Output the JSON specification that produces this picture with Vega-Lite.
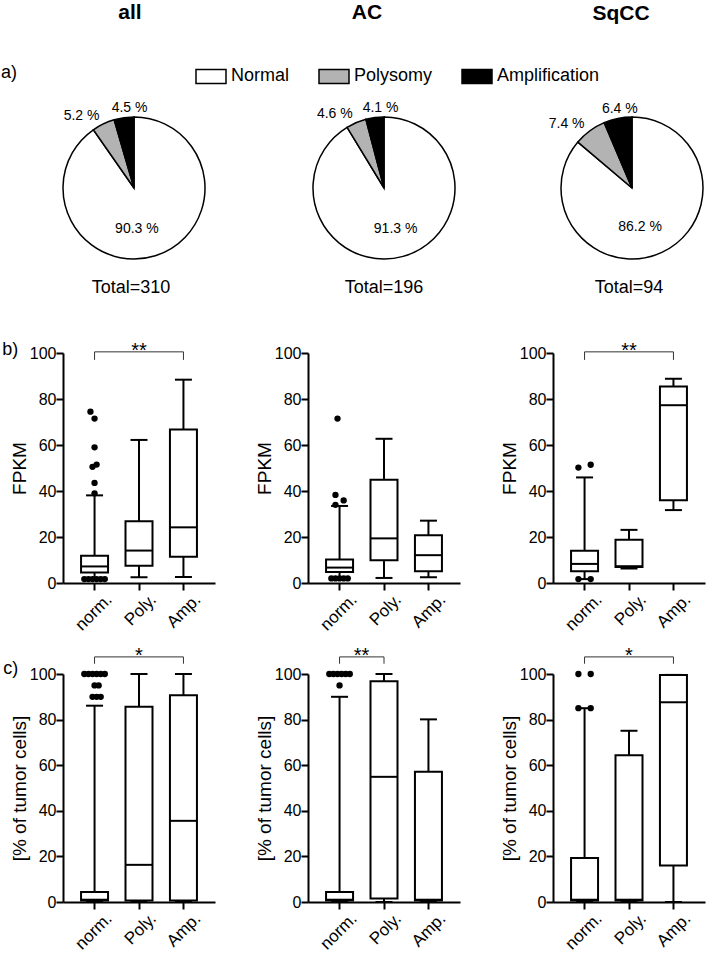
{
  "$schema": "https://vega.github.io/schema/vega-lite/v6.json",
  "padding": {"left": 1, "top": 1, "right": 0, "bottom": 0},
  "config": {
    "font": "Liberation Sans",
    "view": {"stroke": null},
    "axis": {"domainColor": "black", "domainWidth": 2, "tickColor": "black", "tickWidth": 2, "tickSize": 7, "labelColor": "black", "titleColor": "black", "grid": false, "labelFontSize": 16, "titleFontSize": 19, "titleFontWeight": "normal", "labelPadding": 0, "titlePadding": 0},
    "axisX": {"labelAngle": -45, "labelFontSize": 17, "labelPadding": 1, "labelOffset": 9},
    "title": {"color": "black"},
    "tick": {"opacity": 1},
    "bar": {"opacity": 1}
  },
  "datasets": {
    "pie": [
      {"g": "all", "cat": "Normal", "pct": 90.3, "label": "90.3 %"},
      {"g": "all", "cat": "Polysomy", "pct": 5.2, "label": "5.2 %"},
      {"g": "all", "cat": "Amplification", "pct": 4.5, "label": "4.5 %"},
      {"g": "AC", "cat": "Normal", "pct": 91.3, "label": "91.3 %"},
      {"g": "AC", "cat": "Polysomy", "pct": 4.6, "label": "4.6 %"},
      {"g": "AC", "cat": "Amplification", "pct": 4.1, "label": "4.1 %"},
      {"g": "SqCC", "cat": "Normal", "pct": 86.2, "label": "86.2 %"},
      {"g": "SqCC", "cat": "Polysomy", "pct": 7.4, "label": "7.4 %"},
      {"g": "SqCC", "cat": "Amplification", "pct": 6.4, "label": "6.4 %"}
    ],
    "tot": [
      {"g": "all", "t": "Total=310"},
      {"g": "AC", "t": "Total=196"},
      {"g": "SqCC", "t": "Total=94"}
    ],
    "box": [
      {"g": "all", "m": "b", "cat": "norm.", "lo": 1.5, "q1": 4.6, "med": 7.2, "q3": 11.9, "hi": 38.1},
      {"g": "all", "m": "b", "cat": "Poly.", "lo": 2.5, "q1": 7.5, "med": 14.1, "q3": 26.8, "hi": 62.2},
      {"g": "all", "m": "b", "cat": "Amp.", "lo": 2.6, "q1": 11.4, "med": 24.2, "q3": 66.7, "hi": 88.4},
      {"g": "AC", "m": "b", "cat": "norm.", "lo": 2.0, "q1": 4.8, "med": 6.7, "q3": 10.2, "hi": 33.5},
      {"g": "AC", "m": "b", "cat": "Poly.", "lo": 2.2, "q1": 9.9, "med": 19.4, "q3": 44.9, "hi": 62.7},
      {"g": "AC", "m": "b", "cat": "Amp.", "lo": 2.5, "q1": 5.1, "med": 12.1, "q3": 20.8, "hi": 27.1},
      {"g": "SqCC", "m": "b", "cat": "norm.", "lo": 1.7, "q1": 5.1, "med": 8.3, "q3": 14.0, "hi": 45.9},
      {"g": "SqCC", "m": "b", "cat": "Poly.", "lo": 6.3, "q1": 7.0, "med": 7.3, "q3": 18.8, "hi": 23.1},
      {"g": "SqCC", "m": "b", "cat": "Amp.", "lo": 31.7, "q1": 36.0, "med": 77.3, "q3": 85.4, "hi": 88.8},
      {"g": "all", "m": "c", "cat": "norm.", "lo": 0, "q1": 0.7, "med": 1.0, "q3": 4.4, "hi": 86.1},
      {"g": "all", "m": "c", "cat": "Poly.", "lo": 0, "q1": 0.7, "med": 16.3, "q3": 85.6, "hi": 100},
      {"g": "all", "m": "c", "cat": "Amp.", "lo": 0, "q1": 0.7, "med": 35.6, "q3": 90.7, "hi": 100},
      {"g": "AC", "m": "c", "cat": "norm.", "lo": 0, "q1": 0.7, "med": 1.0, "q3": 4.4, "hi": 90},
      {"g": "AC", "m": "c", "cat": "Poly.", "lo": 0, "q1": 1.5, "med": 54.9, "q3": 96.8, "hi": 100},
      {"g": "AC", "m": "c", "cat": "Amp.", "lo": 0, "q1": 0.7, "med": 1.0, "q3": 57.1, "hi": 80.1},
      {"g": "SqCC", "m": "c", "cat": "norm.", "lo": 0, "q1": 0.7, "med": 1.0, "q3": 19.3, "hi": 85},
      {"g": "SqCC", "m": "c", "cat": "Poly.", "lo": 0, "q1": 0.7, "med": 1.0, "q3": 64.4, "hi": 75.1},
      {"g": "SqCC", "m": "c", "cat": "Amp.", "lo": 0, "q1": 16.0, "med": 87.6, "q3": 99.6, "hi": 99.6}
    ],
    "out": [
      {"g": "all", "m": "b", "cat": "norm.", "v": 74.5, "j": 4},
      {"g": "all", "m": "b", "cat": "norm.", "v": 71.5, "j": 6},
      {"g": "all", "m": "b", "cat": "norm.", "v": 59, "j": 6},
      {"g": "all", "m": "b", "cat": "norm.", "v": 51.5, "j": 7},
      {"g": "all", "m": "b", "cat": "norm.", "v": 50.5, "j": 5},
      {"g": "all", "m": "b", "cat": "norm.", "v": 43.5, "j": 6},
      {"g": "all", "m": "b", "cat": "norm.", "v": 39, "j": 6},
      {"g": "all", "m": "b", "cat": "norm.", "v": 1.7, "j": 1},
      {"g": "all", "m": "b", "cat": "norm.", "v": 1.7, "j": 3},
      {"g": "all", "m": "b", "cat": "norm.", "v": 1.7, "j": 5},
      {"g": "all", "m": "b", "cat": "norm.", "v": 1.7, "j": 7},
      {"g": "all", "m": "b", "cat": "norm.", "v": 1.7, "j": 9},
      {"g": "all", "m": "b", "cat": "norm.", "v": 1.7, "j": 11},
      {"g": "AC", "m": "b", "cat": "norm.", "v": 71.5, "j": 5},
      {"g": "AC", "m": "b", "cat": "norm.", "v": 38.3, "j": 4},
      {"g": "AC", "m": "b", "cat": "norm.", "v": 35.9, "j": 8},
      {"g": "AC", "m": "b", "cat": "norm.", "v": 34, "j": 4},
      {"g": "AC", "m": "b", "cat": "norm.", "v": 2.0, "j": 2},
      {"g": "AC", "m": "b", "cat": "norm.", "v": 2.0, "j": 4},
      {"g": "AC", "m": "b", "cat": "norm.", "v": 2.0, "j": 6},
      {"g": "AC", "m": "b", "cat": "norm.", "v": 2.0, "j": 8},
      {"g": "AC", "m": "b", "cat": "norm.", "v": 2.0, "j": 10},
      {"g": "SqCC", "m": "b", "cat": "norm.", "v": 50.2, "j": 3},
      {"g": "SqCC", "m": "b", "cat": "norm.", "v": 51.4, "j": 9},
      {"g": "SqCC", "m": "b", "cat": "norm.", "v": 1.7, "j": 3},
      {"g": "SqCC", "m": "b", "cat": "norm.", "v": 1.7, "j": 9},
      {"g": "all", "m": "c", "cat": "norm.", "v": 100, "j": 1},
      {"g": "all", "m": "c", "cat": "norm.", "v": 100, "j": 3},
      {"g": "all", "m": "c", "cat": "norm.", "v": 100, "j": 5},
      {"g": "all", "m": "c", "cat": "norm.", "v": 100, "j": 7},
      {"g": "all", "m": "c", "cat": "norm.", "v": 100, "j": 9},
      {"g": "all", "m": "c", "cat": "norm.", "v": 100, "j": 11},
      {"g": "all", "m": "c", "cat": "norm.", "v": 95, "j": 6},
      {"g": "all", "m": "c", "cat": "norm.", "v": 95, "j": 8},
      {"g": "all", "m": "c", "cat": "norm.", "v": 90, "j": 5},
      {"g": "all", "m": "c", "cat": "norm.", "v": 90, "j": 7},
      {"g": "all", "m": "c", "cat": "norm.", "v": 90, "j": 9},
      {"g": "AC", "m": "c", "cat": "norm.", "v": 100, "j": 1},
      {"g": "AC", "m": "c", "cat": "norm.", "v": 100, "j": 3},
      {"g": "AC", "m": "c", "cat": "norm.", "v": 100, "j": 5},
      {"g": "AC", "m": "c", "cat": "norm.", "v": 100, "j": 7},
      {"g": "AC", "m": "c", "cat": "norm.", "v": 100, "j": 9},
      {"g": "AC", "m": "c", "cat": "norm.", "v": 100, "j": 11},
      {"g": "AC", "m": "c", "cat": "norm.", "v": 95, "j": 6},
      {"g": "SqCC", "m": "c", "cat": "norm.", "v": 100, "j": 3},
      {"g": "SqCC", "m": "c", "cat": "norm.", "v": 100, "j": 9},
      {"g": "SqCC", "m": "c", "cat": "norm.", "v": 85, "j": 3},
      {"g": "SqCC", "m": "c", "cat": "norm.", "v": 85, "j": 9}
    ],
    "sig": [
      {"g": "all", "m": "b", "from": "norm.", "to": "Amp.", "mid": "Poly.", "label": "**"},
      {"g": "SqCC", "m": "b", "from": "norm.", "to": "Amp.", "mid": "Poly.", "label": "**"},
      {"g": "all", "m": "c", "from": "norm.", "to": "Amp.", "mid": "Poly.", "label": "*"},
      {"g": "AC", "m": "c", "from": "norm.", "to": "Poly.", "mid": "norm.", "label": "**"},
      {"g": "SqCC", "m": "c", "from": "norm.", "to": "Amp.", "mid": "Poly.", "label": "*"}
    ]
  },
  "bounds": "flush",
  "columns": 3,
  "spacing": {"row": 91, "column": 93},
  "resolve": {"scale": {"color": "shared"}, "legend": {"color": "shared"}},
  "concat": [
    {
      "width": 142, "height": 148,
      "title": {"text": "all", "fontSize": 21, "fontWeight": "bold", "offset": 78, "dx": -4},
      "layer": [
        {
          "data": {"name": "pie"},
          "transform": [{"filter": "datum.g === 'all'"}],
          "encoding": {
            "theta": {"field": "pct", "type": "quantitative", "stack": true},
            "order": {"field": "pct", "type": "quantitative", "sort": "descending"}
          },
          "layer": [
            {"mark": {"type": "arc", "outerRadius": 71, "stroke": "black", "strokeWidth": 1.5},
             "encoding": {"color": {"field": "cat", "type": "nominal", "scale": {"domain": ["Normal", "Polysomy", "Amplification"], "range": ["white", "#b3b3b3", "black"]},
               "legend": {"orient": "none", "legendX": -62, "legendY": -54, "direction": "horizontal", "title": "a)", "titleOrient": "left", "titleFontSize": 18, "titleFontWeight": "normal", "titlePadding": 177, "titleColor": "black", "labelFontSize": 18, "labelColor": "black", "symbolType": "M-1,-0.4667H1V0.4667H-1Z", "symbolSize": 900, "symbolStrokeColor": "black", "symbolStrokeWidth": 1.5, "symbolOpacity": 1, "labelOffset": 4, "columnPadding": 26, "labelLimit": 300}}}},
            {"mark": {"type": "text", "radius": 43, "fontSize": 14, "dx": -10},
             "encoding": {"detail": {"field": "cat"}, "color": {"value": "black"}, "text": {"condition": {"test": "datum.cat === 'Normal'", "field": "label"}, "value": ""}}},
            {"mark": {"type": "text", "radius": 80, "fontSize": 14, "align": "right"},
             "encoding": {"detail": {"field": "cat"}, "color": {"value": "black"}, "text": {"condition": {"test": "datum.cat === 'Polysomy'", "field": "label"}, "value": ""}}},
            {"mark": {"type": "text", "radius": 81, "fontSize": 14, "dx": 7},
             "encoding": {"detail": {"field": "cat"}, "color": {"value": "black"}, "text": {"condition": {"test": "datum.cat === 'Amplification'", "field": "label"}, "value": ""}}}
          ]
        },
        {"data": {"name": "tot"}, "transform": [{"filter": "datum.g === 'all'"}],
         "mark": {"type": "text", "fontSize": 18, "dy": 100, "dx": -3, "color": "black"},
         "encoding": {"text": {"field": "t"}}}
      ]
    },
    {
      "width": 152, "height": 148,
      "title": {"text": "AC", "fontSize": 21, "fontWeight": "bold", "offset": 78, "dx": -17},
      "layer": [
        {
          "data": {"name": "pie"},
          "transform": [{"filter": "datum.g === 'AC'"}],
          "encoding": {
            "theta": {"field": "pct", "type": "quantitative", "stack": true},
            "order": {"field": "pct", "type": "quantitative", "sort": "descending"}
          },
          "layer": [
            {"mark": {"type": "arc", "outerRadius": 71, "stroke": "black", "strokeWidth": 1.5},
             "encoding": {"color": {"field": "cat", "type": "nominal", "scale": {"domain": ["Normal", "Polysomy", "Amplification"], "range": ["white", "#b3b3b3", "black"]},
               "legend": {"orient": "none", "legendX": -62, "legendY": -54, "direction": "horizontal", "title": "a)", "titleOrient": "left", "titleFontSize": 18, "titleFontWeight": "normal", "titlePadding": 177, "titleColor": "black", "labelFontSize": 18, "labelColor": "black", "symbolType": "M-1,-0.4667H1V0.4667H-1Z", "symbolSize": 900, "symbolStrokeColor": "black", "symbolStrokeWidth": 1.5, "symbolOpacity": 1, "labelOffset": 4, "columnPadding": 26, "labelLimit": 300}}}},
            {"mark": {"type": "text", "radius": 43, "fontSize": 14, "dx": 0},
             "encoding": {"detail": {"field": "cat"}, "color": {"value": "black"}, "text": {"condition": {"test": "datum.cat === 'Normal'", "field": "label"}, "value": ""}}},
            {"mark": {"type": "text", "radius": 80, "fontSize": 14, "align": "right"},
             "encoding": {"detail": {"field": "cat"}, "color": {"value": "black"}, "text": {"condition": {"test": "datum.cat === 'Polysomy'", "field": "label"}, "value": ""}}},
            {"mark": {"type": "text", "radius": 81, "fontSize": 14, "dx": 7},
             "encoding": {"detail": {"field": "cat"}, "color": {"value": "black"}, "text": {"condition": {"test": "datum.cat === 'Amplification'", "field": "label"}, "value": ""}}}
          ]
        },
        {"data": {"name": "tot"}, "transform": [{"filter": "datum.g === 'AC'"}],
         "mark": {"type": "text", "fontSize": 18, "dy": 100, "dx": 0, "color": "black"},
         "encoding": {"text": {"field": "t"}}}
      ]
    },
    {
      "width": 158, "height": 148,
      "title": {"text": "SqCC", "fontSize": 21, "fontWeight": "bold", "offset": 78, "dx": -11},
      "layer": [
        {
          "data": {"name": "pie"},
          "transform": [{"filter": "datum.g === 'SqCC'"}],
          "encoding": {
            "theta": {"field": "pct", "type": "quantitative", "stack": true},
            "order": {"field": "pct", "type": "quantitative", "sort": "descending"}
          },
          "layer": [
            {"mark": {"type": "arc", "outerRadius": 71, "stroke": "black", "strokeWidth": 1.5},
             "encoding": {"color": {"field": "cat", "type": "nominal", "scale": {"domain": ["Normal", "Polysomy", "Amplification"], "range": ["white", "#b3b3b3", "black"]},
               "legend": {"orient": "none", "legendX": -62, "legendY": -54, "direction": "horizontal", "title": "a)", "titleOrient": "left", "titleFontSize": 18, "titleFontWeight": "normal", "titlePadding": 177, "titleColor": "black", "labelFontSize": 18, "labelColor": "black", "symbolType": "M-1,-0.4667H1V0.4667H-1Z", "symbolSize": 900, "symbolStrokeColor": "black", "symbolStrokeWidth": 1.5, "symbolOpacity": 1, "labelOffset": 4, "columnPadding": 26, "labelLimit": 300}}}},
            {"mark": {"type": "text", "radius": 43, "fontSize": 14, "dx": -10},
             "encoding": {"detail": {"field": "cat"}, "color": {"value": "black"}, "text": {"condition": {"test": "datum.cat === 'Normal'", "field": "label"}, "value": ""}}},
            {"mark": {"type": "text", "radius": 80, "fontSize": 14, "align": "right"},
             "encoding": {"detail": {"field": "cat"}, "color": {"value": "black"}, "text": {"condition": {"test": "datum.cat === 'Polysomy'", "field": "label"}, "value": ""}}},
            {"mark": {"type": "text", "radius": 81, "fontSize": 14, "dx": 4},
             "encoding": {"detail": {"field": "cat"}, "color": {"value": "black"}, "text": {"condition": {"test": "datum.cat === 'Amplification'", "field": "label"}, "value": ""}}}
          ]
        },
        {"data": {"name": "tot"}, "transform": [{"filter": "datum.g === 'SqCC'"}],
         "mark": {"type": "text", "fontSize": 18, "dy": 100, "dx": -3, "color": "black"},
         "encoding": {"text": {"field": "t"}}}
      ]
    },
    {
      "width": 152, "height": 230,
      "title": {"text": "b)", "orient": "left", "angle": 0, "anchor": "end", "align": "left", "baseline": "top", "fontSize": 18, "fontWeight": "normal", "offset": -8, "dy": 0},
      "layer": [
        {"data": {"name": "box"}, "transform": [{"filter": "datum.g === 'all' && datum.m === 'b'"}],
         "encoding": {"x": {"field": "cat", "type": "nominal", "sort": ["norm.", "Poly.", "Amp."], "scale": {"domain": ["norm.", "Poly.", "Amp."], "paddingInner": 0.4, "paddingOuter": 0.41}, "axis": {"title": null}}},
         "layer": [
           {"mark": {"type": "rule", "color": "black", "strokeWidth": 2}, "encoding": {"y": {"field": "lo", "type": "quantitative", "scale": {"domain": [0, 100], "nice": false}, "axis": {"title": "FPKM", "values": [0, 20, 40, 60, 80, 100]}}, "y2": {"field": "hi"}}},
           {"mark": {"type": "bar", "fill": "white", "stroke": "black", "strokeWidth": 2, "width": 27}, "encoding": {"y": {"field": "q1", "type": "quantitative"}, "y2": {"field": "q3"}}},
           {"mark": {"type": "tick", "color": "black", "thickness": 2, "size": 27, "opacity": 1}, "encoding": {"y": {"field": "med", "type": "quantitative"}}},
           {"mark": {"type": "tick", "color": "black", "thickness": 2, "size": 17, "opacity": 1}, "encoding": {"y": {"field": "lo", "type": "quantitative"}}},
           {"mark": {"type": "tick", "color": "black", "thickness": 2, "size": 17, "opacity": 1}, "encoding": {"y": {"field": "hi", "type": "quantitative"}}}
         ]},
        {"data": {"name": "out"}, "transform": [{"filter": "datum.g === 'all' && datum.m === 'b'"}],
         "mark": {"type": "circle", "size": 40, "color": "black", "opacity": 1},
         "encoding": {"x": {"field": "cat", "type": "nominal"}, "xOffset": {"field": "j", "type": "ordinal", "scale": {"domain": [0, 1, 2, 3, 4, 5, 6, 7, 8, 9, 10, 11, 12]}}, "y": {"field": "v", "type": "quantitative"}}},
        {"data": {"name": "sig"}, "transform": [{"filter": "datum.g === 'all' && datum.m === 'b'"}],
         "layer": [
           {"mark": {"type": "rule", "color": "#333333", "strokeWidth": 1}, "encoding": {"x": {"field": "from", "type": "nominal"}, "x2": {"field": "to"}, "y": {"datum": 100.5}}},
           {"mark": {"type": "rule", "color": "#333333", "strokeWidth": 1}, "encoding": {"x": {"field": "from", "type": "nominal"}, "y": {"datum": 100.5}, "y2": {"datum": 97}}},
           {"mark": {"type": "rule", "color": "#333333", "strokeWidth": 1}, "encoding": {"x": {"field": "to", "type": "nominal"}, "y": {"datum": 100.5}, "y2": {"datum": 97}}},
           {"mark": {"type": "text", "fontSize": 20, "dy": 5, "baseline": "alphabetic", "color": "black"}, "encoding": {"x": {"field": "mid", "type": "nominal"}, "y": {"datum": 100.5}, "text": {"field": "label"}}}
         ]}
      ]
    },
    {
      "width": 152, "height": 230,
      "layer": [
        {"data": {"name": "box"}, "transform": [{"filter": "datum.g === 'AC' && datum.m === 'b'"}],
         "encoding": {"x": {"field": "cat", "type": "nominal", "sort": ["norm.", "Poly.", "Amp."], "scale": {"domain": ["norm.", "Poly.", "Amp."], "paddingInner": 0.4, "paddingOuter": 0.41}, "axis": {"title": null}}},
         "layer": [
           {"mark": {"type": "rule", "color": "black", "strokeWidth": 2}, "encoding": {"y": {"field": "lo", "type": "quantitative", "scale": {"domain": [0, 100], "nice": false}, "axis": {"title": "FPKM", "values": [0, 20, 40, 60, 80, 100]}}, "y2": {"field": "hi"}}},
           {"mark": {"type": "bar", "fill": "white", "stroke": "black", "strokeWidth": 2, "width": 27}, "encoding": {"y": {"field": "q1", "type": "quantitative"}, "y2": {"field": "q3"}}},
           {"mark": {"type": "tick", "color": "black", "thickness": 2, "size": 27, "opacity": 1}, "encoding": {"y": {"field": "med", "type": "quantitative"}}},
           {"mark": {"type": "tick", "color": "black", "thickness": 2, "size": 17, "opacity": 1}, "encoding": {"y": {"field": "lo", "type": "quantitative"}}},
           {"mark": {"type": "tick", "color": "black", "thickness": 2, "size": 17, "opacity": 1}, "encoding": {"y": {"field": "hi", "type": "quantitative"}}}
         ]},
        {"data": {"name": "out"}, "transform": [{"filter": "datum.g === 'AC' && datum.m === 'b'"}],
         "mark": {"type": "circle", "size": 40, "color": "black", "opacity": 1},
         "encoding": {"x": {"field": "cat", "type": "nominal"}, "xOffset": {"field": "j", "type": "ordinal", "scale": {"domain": [0, 1, 2, 3, 4, 5, 6, 7, 8, 9, 10, 11, 12]}}, "y": {"field": "v", "type": "quantitative"}}}
      ]
    },
    {
      "width": 152, "height": 230,
      "layer": [
        {"data": {"name": "box"}, "transform": [{"filter": "datum.g === 'SqCC' && datum.m === 'b'"}],
         "encoding": {"x": {"field": "cat", "type": "nominal", "sort": ["norm.", "Poly.", "Amp."], "scale": {"domain": ["norm.", "Poly.", "Amp."], "paddingInner": 0.4, "paddingOuter": 0.41}, "axis": {"title": null}}},
         "layer": [
           {"mark": {"type": "rule", "color": "black", "strokeWidth": 2}, "encoding": {"y": {"field": "lo", "type": "quantitative", "scale": {"domain": [0, 100], "nice": false}, "axis": {"title": "FPKM", "values": [0, 20, 40, 60, 80, 100]}}, "y2": {"field": "hi"}}},
           {"mark": {"type": "bar", "fill": "white", "stroke": "black", "strokeWidth": 2, "width": 27}, "encoding": {"y": {"field": "q1", "type": "quantitative"}, "y2": {"field": "q3"}}},
           {"mark": {"type": "tick", "color": "black", "thickness": 2, "size": 27, "opacity": 1}, "encoding": {"y": {"field": "med", "type": "quantitative"}}},
           {"mark": {"type": "tick", "color": "black", "thickness": 2, "size": 17, "opacity": 1}, "encoding": {"y": {"field": "lo", "type": "quantitative"}}},
           {"mark": {"type": "tick", "color": "black", "thickness": 2, "size": 17, "opacity": 1}, "encoding": {"y": {"field": "hi", "type": "quantitative"}}}
         ]},
        {"data": {"name": "out"}, "transform": [{"filter": "datum.g === 'SqCC' && datum.m === 'b'"}],
         "mark": {"type": "circle", "size": 40, "color": "black", "opacity": 1},
         "encoding": {"x": {"field": "cat", "type": "nominal"}, "xOffset": {"field": "j", "type": "ordinal", "scale": {"domain": [0, 1, 2, 3, 4, 5, 6, 7, 8, 9, 10, 11, 12]}}, "y": {"field": "v", "type": "quantitative"}}},
        {"data": {"name": "sig"}, "transform": [{"filter": "datum.g === 'SqCC' && datum.m === 'b'"}],
         "layer": [
           {"mark": {"type": "rule", "color": "#333333", "strokeWidth": 1}, "encoding": {"x": {"field": "from", "type": "nominal"}, "x2": {"field": "to"}, "y": {"datum": 100.5}}},
           {"mark": {"type": "rule", "color": "#333333", "strokeWidth": 1}, "encoding": {"x": {"field": "from", "type": "nominal"}, "y": {"datum": 100.5}, "y2": {"datum": 97}}},
           {"mark": {"type": "rule", "color": "#333333", "strokeWidth": 1}, "encoding": {"x": {"field": "to", "type": "nominal"}, "y": {"datum": 100.5}, "y2": {"datum": 97}}},
           {"mark": {"type": "text", "fontSize": 20, "dy": 5, "baseline": "alphabetic", "color": "black"}, "encoding": {"x": {"field": "mid", "type": "nominal"}, "y": {"datum": 100.5}, "text": {"field": "label"}}}
         ]}
      ]
    },
    {
      "width": 152, "height": 228,
      "title": {"text": "c)", "orient": "left", "angle": 0, "anchor": "end", "align": "left", "baseline": "top", "fontSize": 18, "fontWeight": "normal", "offset": -8, "dy": 14},
      "layer": [
        {"data": {"name": "box"}, "transform": [{"filter": "datum.g === 'all' && datum.m === 'c'"}],
         "encoding": {"x": {"field": "cat", "type": "nominal", "sort": ["norm.", "Poly.", "Amp."], "scale": {"domain": ["norm.", "Poly.", "Amp."], "paddingInner": 0.4, "paddingOuter": 0.41}, "axis": {"title": null}}},
         "layer": [
           {"mark": {"type": "rule", "color": "black", "strokeWidth": 2}, "encoding": {"y": {"field": "lo", "type": "quantitative", "scale": {"domain": [0, 100], "nice": false}, "axis": {"title": "[% of tumor cells]", "values": [0, 20, 40, 60, 80, 100]}}, "y2": {"field": "hi"}}},
           {"mark": {"type": "bar", "fill": "white", "stroke": "black", "strokeWidth": 2, "width": 27}, "encoding": {"y": {"field": "q1", "type": "quantitative"}, "y2": {"field": "q3"}}},
           {"mark": {"type": "tick", "color": "black", "thickness": 2, "size": 27, "opacity": 1}, "encoding": {"y": {"field": "med", "type": "quantitative"}}},
           {"mark": {"type": "tick", "color": "black", "thickness": 2, "size": 17, "opacity": 1}, "encoding": {"y": {"field": "lo", "type": "quantitative"}}},
           {"mark": {"type": "tick", "color": "black", "thickness": 2, "size": 17, "opacity": 1}, "encoding": {"y": {"field": "hi", "type": "quantitative"}}}
         ]},
        {"data": {"name": "out"}, "transform": [{"filter": "datum.g === 'all' && datum.m === 'c'"}],
         "mark": {"type": "circle", "size": 40, "color": "black", "opacity": 1},
         "encoding": {"x": {"field": "cat", "type": "nominal"}, "xOffset": {"field": "j", "type": "ordinal", "scale": {"domain": [0, 1, 2, 3, 4, 5, 6, 7, 8, 9, 10, 11, 12]}}, "y": {"field": "v", "type": "quantitative"}}},
        {"data": {"name": "sig"}, "transform": [{"filter": "datum.g === 'all' && datum.m === 'c'"}],
         "layer": [
           {"mark": {"type": "rule", "color": "#333333", "strokeWidth": 1}, "encoding": {"x": {"field": "from", "type": "nominal"}, "x2": {"field": "to"}, "y": {"datum": 107.5}}},
           {"mark": {"type": "rule", "color": "#333333", "strokeWidth": 1}, "encoding": {"x": {"field": "from", "type": "nominal"}, "y": {"datum": 107.5}, "y2": {"datum": 104.5}}},
           {"mark": {"type": "rule", "color": "#333333", "strokeWidth": 1}, "encoding": {"x": {"field": "to", "type": "nominal"}, "y": {"datum": 107.5}, "y2": {"datum": 104.5}}},
           {"mark": {"type": "text", "fontSize": 20, "dy": 5, "baseline": "alphabetic", "color": "black"}, "encoding": {"x": {"field": "mid", "type": "nominal"}, "y": {"datum": 107.5}, "text": {"field": "label"}}}
         ]}
      ]
    },
    {
      "width": 152, "height": 228,
      "layer": [
        {"data": {"name": "box"}, "transform": [{"filter": "datum.g === 'AC' && datum.m === 'c'"}],
         "encoding": {"x": {"field": "cat", "type": "nominal", "sort": ["norm.", "Poly.", "Amp."], "scale": {"domain": ["norm.", "Poly.", "Amp."], "paddingInner": 0.4, "paddingOuter": 0.41}, "axis": {"title": null}}},
         "layer": [
           {"mark": {"type": "rule", "color": "black", "strokeWidth": 2}, "encoding": {"y": {"field": "lo", "type": "quantitative", "scale": {"domain": [0, 100], "nice": false}, "axis": {"title": "[% of tumor cells]", "values": [0, 20, 40, 60, 80, 100]}}, "y2": {"field": "hi"}}},
           {"mark": {"type": "bar", "fill": "white", "stroke": "black", "strokeWidth": 2, "width": 27}, "encoding": {"y": {"field": "q1", "type": "quantitative"}, "y2": {"field": "q3"}}},
           {"mark": {"type": "tick", "color": "black", "thickness": 2, "size": 27, "opacity": 1}, "encoding": {"y": {"field": "med", "type": "quantitative"}}},
           {"mark": {"type": "tick", "color": "black", "thickness": 2, "size": 17, "opacity": 1}, "encoding": {"y": {"field": "lo", "type": "quantitative"}}},
           {"mark": {"type": "tick", "color": "black", "thickness": 2, "size": 17, "opacity": 1}, "encoding": {"y": {"field": "hi", "type": "quantitative"}}}
         ]},
        {"data": {"name": "out"}, "transform": [{"filter": "datum.g === 'AC' && datum.m === 'c'"}],
         "mark": {"type": "circle", "size": 40, "color": "black", "opacity": 1},
         "encoding": {"x": {"field": "cat", "type": "nominal"}, "xOffset": {"field": "j", "type": "ordinal", "scale": {"domain": [0, 1, 2, 3, 4, 5, 6, 7, 8, 9, 10, 11, 12]}}, "y": {"field": "v", "type": "quantitative"}}},
        {"data": {"name": "sig"}, "transform": [{"filter": "datum.g === 'AC' && datum.m === 'c'"}],
         "layer": [
           {"mark": {"type": "rule", "color": "#333333", "strokeWidth": 1}, "encoding": {"x": {"field": "from", "type": "nominal"}, "x2": {"field": "to"}, "y": {"datum": 107.5}}},
           {"mark": {"type": "rule", "color": "#333333", "strokeWidth": 1}, "encoding": {"x": {"field": "from", "type": "nominal"}, "y": {"datum": 107.5}, "y2": {"datum": 104.5}}},
           {"mark": {"type": "rule", "color": "#333333", "strokeWidth": 1}, "encoding": {"x": {"field": "to", "type": "nominal"}, "y": {"datum": 107.5}, "y2": {"datum": 104.5}}},
           {"mark": {"type": "text", "fontSize": 20, "dy": 5, "dx": 22, "baseline": "alphabetic", "color": "black"}, "encoding": {"x": {"field": "mid", "type": "nominal"}, "y": {"datum": 107.5}, "text": {"field": "label"}}}
         ]}
      ]
    },
    {
      "width": 152, "height": 228,
      "layer": [
        {"data": {"name": "box"}, "transform": [{"filter": "datum.g === 'SqCC' && datum.m === 'c'"}],
         "encoding": {"x": {"field": "cat", "type": "nominal", "sort": ["norm.", "Poly.", "Amp."], "scale": {"domain": ["norm.", "Poly.", "Amp."], "paddingInner": 0.4, "paddingOuter": 0.41}, "axis": {"title": null}}},
         "layer": [
           {"mark": {"type": "rule", "color": "black", "strokeWidth": 2}, "encoding": {"y": {"field": "lo", "type": "quantitative", "scale": {"domain": [0, 100], "nice": false}, "axis": {"title": "[% of tumor cells]", "values": [0, 20, 40, 60, 80, 100]}}, "y2": {"field": "hi"}}},
           {"mark": {"type": "bar", "fill": "white", "stroke": "black", "strokeWidth": 2, "width": 27}, "encoding": {"y": {"field": "q1", "type": "quantitative"}, "y2": {"field": "q3"}}},
           {"mark": {"type": "tick", "color": "black", "thickness": 2, "size": 27, "opacity": 1}, "encoding": {"y": {"field": "med", "type": "quantitative"}}},
           {"mark": {"type": "tick", "color": "black", "thickness": 2, "size": 17, "opacity": 1}, "encoding": {"y": {"field": "lo", "type": "quantitative"}}},
           {"mark": {"type": "tick", "color": "black", "thickness": 2, "size": 17, "opacity": 1}, "encoding": {"y": {"field": "hi", "type": "quantitative"}}}
         ]},
        {"data": {"name": "out"}, "transform": [{"filter": "datum.g === 'SqCC' && datum.m === 'c'"}],
         "mark": {"type": "circle", "size": 40, "color": "black", "opacity": 1},
         "encoding": {"x": {"field": "cat", "type": "nominal"}, "xOffset": {"field": "j", "type": "ordinal", "scale": {"domain": [0, 1, 2, 3, 4, 5, 6, 7, 8, 9, 10, 11, 12]}}, "y": {"field": "v", "type": "quantitative"}}},
        {"data": {"name": "sig"}, "transform": [{"filter": "datum.g === 'SqCC' && datum.m === 'c'"}],
         "layer": [
           {"mark": {"type": "rule", "color": "#333333", "strokeWidth": 1}, "encoding": {"x": {"field": "from", "type": "nominal"}, "x2": {"field": "to"}, "y": {"datum": 107.5}}},
           {"mark": {"type": "rule", "color": "#333333", "strokeWidth": 1}, "encoding": {"x": {"field": "from", "type": "nominal"}, "y": {"datum": 107.5}, "y2": {"datum": 104.5}}},
           {"mark": {"type": "rule", "color": "#333333", "strokeWidth": 1}, "encoding": {"x": {"field": "to", "type": "nominal"}, "y": {"datum": 107.5}, "y2": {"datum": 104.5}}},
           {"mark": {"type": "text", "fontSize": 20, "dy": 5, "baseline": "alphabetic", "color": "black"}, "encoding": {"x": {"field": "mid", "type": "nominal"}, "y": {"datum": 107.5}, "text": {"field": "label"}}}
         ]}
      ]
    }
  ]
}
